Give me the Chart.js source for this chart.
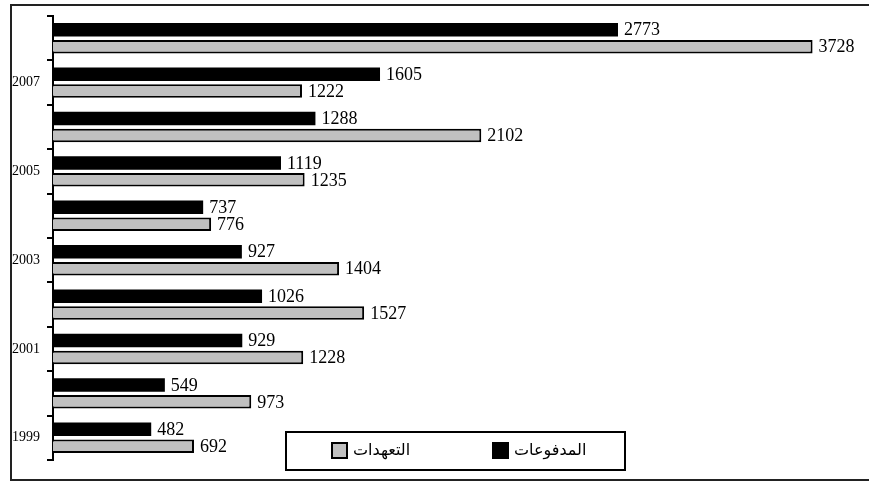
<!DOCTYPE html>
<html>
<head>
<meta charset="utf-8">
<script src="https://cdn.jsdelivr.net/npm/chart.js@4/dist/chart.umd.min.js"></script>
<style>
  body { margin: 0; background: #fff; }
  #wrap { width: 869px; height: 483px; position: relative; }
</style>
</head>
<body>
<div id="wrap"><canvas id="aidChart"></canvas></div>
<script>
const years = ["1999", "2000", "2001", "2002", "2003", "2004", "2005", "2006", "2007", "2008"];
const payments = [482, 549, 929, 1026, 927, 737, 1119, 1288, 1605, 2773];
const commitments = [692, 973, 1228, 1527, 1404, 776, 1235, 2102, 1222, 3728];
const shownYears = ["1999", "2001", "2003", "2005", "2007"];
const seriesNames = ["المدفوعات", "التعهدات"];

// white page + frame round the chart
const framePlugin = {
  id: "frame",
  beforeDraw: (chart) => {
    const ctx = chart.ctx;
    ctx.save();
    ctx.fillStyle = "#fff";
    ctx.fillRect(0, 0, chart.width, chart.height);
    ctx.restore();
  },
  afterDraw: (chart) => {
    const ctx = chart.ctx;
    ctx.save();
    ctx.strokeStyle = "#222";
    ctx.lineWidth = 2;
    ctx.strokeRect(11, 5, 870, 475);

    // legend box
    ctx.fillStyle = "#fff";
    ctx.fillRect(286, 432, 339, 38);
    ctx.strokeStyle = "#000";
    ctx.strokeRect(286, 432, 339, 38);

    const items = [
      { x: 332, fill: "#c0c0c0", text: seriesNames[1] },
      { x: 493, fill: "#000", text: seriesNames[0] },
    ];
    ctx.font = "16px 'DejaVu Sans'";
    ctx.textBaseline = "middle";
    ctx.textAlign = "left";
    items.forEach((it) => {
      ctx.fillStyle = it.fill;
      ctx.fillRect(it.x, 443, 15, 15);
      ctx.strokeRect(it.x, 443, 15, 15);
      ctx.fillStyle = "#000";
      ctx.fillText(it.text, it.x + 21, 451);
    });
    ctx.restore();
  },
};

// value labels at the bar ends
const valueLabels = {
  id: "valueLabels",
  afterDatasetsDraw: (chart) => {
    const ctx = chart.ctx;
    ctx.save();
    ctx.font = "18px 'Liberation Serif'";
    ctx.fillStyle = "#000";
    ctx.textAlign = "left";
    ctx.textBaseline = "middle";
    chart.data.datasets.forEach((ds, i) => {
      chart.getDatasetMeta(i).data.forEach((bar, j) => {
        ctx.fillText(ds.data[j], bar.x + 6, bar.y + 1);
      });
    });
    ctx.restore();
  },
};

const ctx = document.getElementById("aidChart").getContext("2d");
const aidChart = new Chart(ctx, {
  type: "bar",
  data: {
    labels: years,
    datasets: [
      {
        label: seriesNames[0],
        data: payments,
        backgroundColor: "#000",
        borderColor: "#000",
        borderWidth: 0,
        categoryPercentage: 0.76,
        barPercentage: 0.8,
      },
      {
        label: seriesNames[1],
        data: commitments,
        backgroundColor: "#c0c0c0",
        borderColor: "#000",
        borderWidth: 2,
        categoryPercentage: 0.76,
        barPercentage: 0.8,
      },
    ],
  },
  options: {
    indexAxis: "y",
    responsive: true,
    maintainAspectRatio: false,
    animation: false,
    layout: { padding: { top: 16, bottom: 23, left: 0, right: 1 } },
    plugins: {
      legend: { display: false },
      tooltip: { enabled: false },
    },
    scales: {
      x: {
        display: false,
        min: 0,
        max: 4000,
      },
      y: {
        reverse: true,
        afterFit: (scale) => {
          scale.width = 53;
        },
        border: { display: true, color: "#000", width: 2 },
        grid: {
          offset: true,
          drawOnChartArea: false,
          drawTicks: true,
          tickLength: 6,
          color: "#000",
          lineWidth: 2,
        },
        ticks: {
          autoSkip: false,
          padding: 7,
          color: "#000",
          font: { family: "'Liberation Serif'", size: 14 },
          callback: function (value) {
            const lbl = this.getLabelForValue(value);
            return shownYears.includes(lbl) ? lbl : "";
          },
        },
      },
    },
  },
  plugins: [framePlugin, valueLabels],
});
</script>
</body>
</html>
